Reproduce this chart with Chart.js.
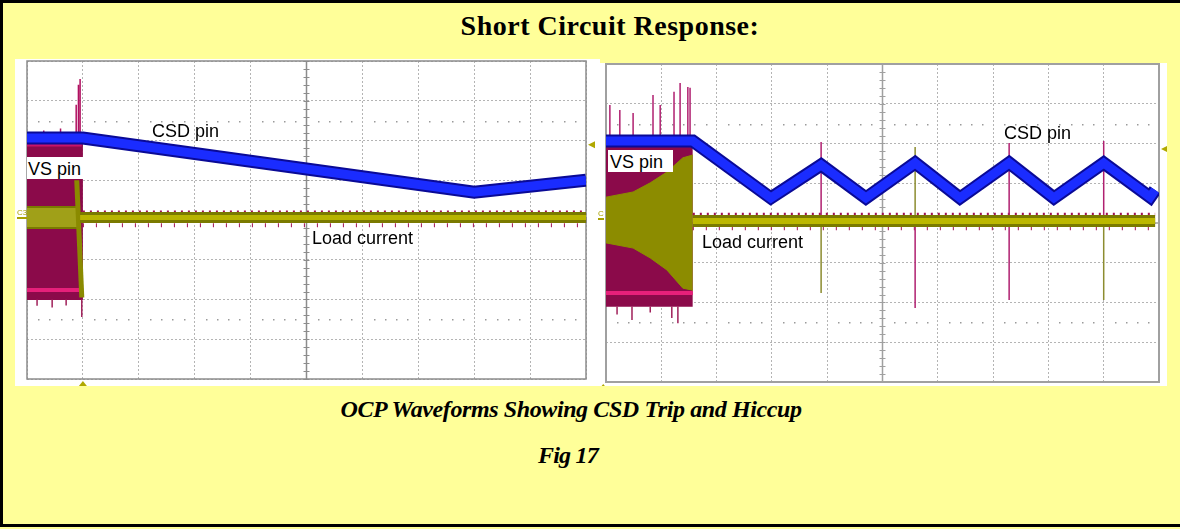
<!DOCTYPE html>
<html>
<head>
<meta charset="utf-8">
<script src="https://cdn.jsdelivr.net/npm/chart.js@4"></script>
<style>
  html, body { margin: 0; padding: 0; }
  body { width: 1180px; height: 529px; background: #ffff99; position: relative; overflow: hidden; font-family: "Liberation Sans", Arial, sans-serif; }
  .frame { position: absolute; left: 0; top: 0; width: 1200px; height: 521px; border: 3px solid #000; border-right: 0; }
  .serif { position: absolute; left: 0; font-family: "Liberation Serif", "Times New Roman", serif; font-weight: bold; color: #000; line-height: 1; white-space: nowrap; text-align: center; }
  canvas { position: absolute; background: #fff; }
  .lbl { position: absolute; font-size: 18px; line-height: 18px; color: #000; white-space: nowrap; }
  .box { position: absolute; background: #fff; }
  .ch { position: absolute; font-size: 8px; line-height: 8px; color: #a8a000; border-bottom: 2px solid #a8a000; }
</style>
</head>
<body>
<div class="frame"></div>
<div class="serif" style="top:12px; width:1220px; font-size:28px; letter-spacing:0.5px;">Short Circuit Response:</div>

<canvas id="leftScope" width="585" height="327" style="left:15px; top:59px;"></canvas>
<canvas id="rightScope" width="567" height="323" style="left:600px; top:63px;"></canvas>

<div class="lbl" style="left:152px; top:122px;">CSD pin</div>
<div class="box" style="left:27px; top:157px; width:57px; height:22px;"></div>
<div class="lbl" style="left:28px; top:160px;">VS pin</div>
<div class="lbl" style="left:312px; top:229px;">Load current</div>
<span class="ch" style="left:17px; top:209px;">C3</span>

<div class="lbl" style="left:1004px; top:124px;">CSD pin</div>
<div class="box" style="left:608px; top:150px; width:65px; height:22px;"></div>
<div class="lbl" style="left:610px; top:153px;">VS pin</div>
<div class="lbl" style="left:702px; top:233px;">Load current</div>
<span class="ch" style="left:598px; top:210px; width:6px; overflow:hidden;">C3</span>

<div class="serif" style="top:397px; width:1142px; font-size:24px; font-style:italic; letter-spacing:-0.4px;">OCP Waveforms Showing CSD Trip and Hiccup</div>
<div class="serif" style="top:443px; width:1136px; font-size:24px; font-style:italic; letter-spacing:-0.8px;">Fig 17</div>

<script>
// scope screens in divisions: x 0..10, y -4..4 (0 = centre line)

// left capture: CSD trip
const leftCsd = [[0, 2.06], [1.0, 2.06], [8.0, 0.70], [10, 1.0]]
const leftVsTop = [[0, 1.95], [1.0, 1.95]]
const leftVsBottom = [[0, -2.01], [1.0, -2.01]]
const leftVsPink = [[0, -1.76], [0.98, -1.76]]
const leftVsUpperPink = [[0, 1.9], [0.98, 1.9]]
const leftLoadBlockTop = [[0, 0.33], [0.95, 0.33]]
const leftLoadBlockBottom = [[0, -0.2], [0.95, -0.2]]
const leftLoadEdge = [[0.89, 1.0], [0.98, -1.95]]
const leftLoad = [[0.95, 0.06], [10, 0.06]]
// spikes: [x, from, to]
const leftVsSpikes = [[0.95, 2.06, 3.55], [0.92, 2.06, 3.4], [0.88, 2.06, 2.9], [0.6, 2.06, 2.3], [0.3, 2.06, 2.25]]
const leftVsLowSpikes = [[0.18, -2.0, -2.16], [0.45, -2.0, -2.2], [0.7, -2.0, -2.15], [0.98, -2.0, -2.44]]

// right capture: hiccup
const rightCsd = [[0, 2.06], [1.57, 2.06], [2.98, 0.63], [3.89, 1.46], [4.70, 0.63], [5.59, 1.51], [6.40, 0.63],
  [7.29, 1.51], [8.10, 0.63], [9.0, 1.51], [9.84, 0.65], [9.93, 0.83]]
const rightVsTop = [[0, 2.0], [1.57, 2.0]]
const rightVsBottom = [[0, -2.11], [1.57, -2.11]]
const rightVsPink = [[0, -1.76], [1.57, -1.76]]
const rightEnvX = [0, 0.49, 0.80, 1.10, 1.39, 1.57]
const rightEnvTop = [0.65, 0.78, 1.01, 1.28, 1.64, 1.71]
const rightEnvBottom = [-0.50, -0.63, -0.88, -1.18, -1.64, -1.69]
const rightLoad = [[1.57, 0.05], [9.93, 0.05]]
const rightVsSpikes = [[0.07, 2.06, 2.97], [0.25, 2.06, 2.84], [0.49, 2.06, 2.77], [0.85, 2.06, 3.22], [0.98, 2.06, 2.97],
  [1.23, 2.06, 3.30], [1.34, 2.06, 3.52], [1.48, 2.06, 3.42], [1.52, 2.06, 3.40]]
const rightVsLowSpikes = [[0.47, -2.1, -2.44], [1.19, -2.1, -2.39], [1.30, -2.1, -2.52], [0.2, -2.1, -2.3], [0.8, -2.1, -2.25]]
const rightVsPeakSpikes = [[3.89, 0.05, 2.04], [7.29, 0.05, 2.01], [9.0, 0.05, 2.06], [5.59, 0.05, -2.14], [7.29, 0.05, -1.94]]
const rightLoadSpikes = [[3.89, 0.05, -1.76], [5.59, 0.05, 1.91], [9.0, 0.05, -1.94]]

const MAGENTA = "#8b0a4a"
const PINK = "#e6207a"
const OLIVE = "#8c8c00"

const pts = (arr) => arr.map((p) => ({ x: p[0], y: p[1] }))
const zipPts = (xs, ys) => xs.map((x, i) => ({ x: x, y: ys[i] }))
const spikePts = (arr) => {
  const out = []
  arr.forEach((s) => out.push({ x: s[0], y: s[1] }, { x: s[0], y: s[2] }, { x: s[0], y: null }))
  return out
}
const line = (data, color, width, extra) =>
  Object.assign({ data: data, borderColor: color, borderWidth: width, pointRadius: 0, fill: false, tension: 0 }, extra || {})

// graticule details the scale grid can't do: solid frame, centre cross with minor ticks, dotted rows, markers
const graticule = {
  id: "graticule",
  beforeDatasetsDraw(chart, args, opts) {
    const { ctx, chartArea: a, scales } = chart
    const x = scales.x, y = scales.y
    const cx = x.getPixelForValue(5), cy = y.getPixelForValue(0)
    ctx.save()
    ctx.strokeStyle = opts.color
    ctx.lineWidth = 1.5
    ctx.beginPath()
    ctx.moveTo(cx, a.top); ctx.lineTo(cx, a.bottom)
    ctx.moveTo(a.left, cy); ctx.lineTo(a.right, cy)
    ctx.stroke()
    ctx.lineWidth = 1
    ctx.beginPath()
    for (let v = -4; v <= 4.001; v += 0.2) {
      const py = Math.round(y.getPixelForValue(v)) + 0.5
      ctx.moveTo(cx - 3, py); ctx.lineTo(cx + 3, py)
    }
    for (let v = 0; v <= 10.001; v += 0.2) {
      const px = Math.round(x.getPixelForValue(v)) + 0.5
      ctx.moveTo(px, cy - 3); ctx.lineTo(px, cy + 3)
    }
    ctx.stroke()
    ctx.fillStyle = "#9a9a9a"
    for (const row of [2.5, -2.5]) {
      const py = Math.round(y.getPixelForValue(row))
      for (let v = 0.2; v < 10; v += 0.2) {
        if (Math.abs(v - Math.round(v)) < 0.05) continue
        ctx.fillRect(Math.round(x.getPixelForValue(v)), py, 1.5, 1.5)
      }
    }
    ctx.lineWidth = opts.frameWidth
    ctx.strokeRect(a.left, a.top, a.width, a.height)
    ctx.restore()
  },
  afterDraw(chart, args, opts) {
    const { ctx, chartArea: a, scales } = chart
    ctx.save()
    ctx.fillStyle = "#b0a800"
    // trigger level marker on the right edge
    const ly = scales.y.getPixelForValue(opts.levelY)
    ctx.beginPath()
    ctx.moveTo(a.right + 2, ly); ctx.lineTo(a.right + 9, ly - 3.5); ctx.lineTo(a.right + 9, ly + 3.5)
    ctx.closePath(); ctx.fill()
    // trigger position marker under the screen
    const tx = scales.x.getPixelForValue(opts.trigX)
    ctx.beginPath()
    ctx.moveTo(tx, a.bottom + 2); ctx.lineTo(tx - 4, a.bottom + 7); ctx.lineTo(tx + 4, a.bottom + 7)
    ctx.closePath(); ctx.fill()
    ctx.restore()
  },
}

function scope(id, datasets, pad, marks) {
  datasets.forEach((d, i) => { d.order = datasets.length - i })
  const axis = (min, max) => ({
    type: "linear", min: min, max: max,
    ticks: { display: false, stepSize: 1 },
    grid: { color: "#b4b4b4", drawTicks: false, lineWidth: 1 },
    border: { display: false, dash: [2, 2] },
  })
  return new Chart(document.getElementById(id), {
    type: "line",
    data: { datasets: datasets },
    options: {
      responsive: false,
      animation: false,
      events: [],
      devicePixelRatio: 1,
      layout: { padding: pad },
      plugins: { legend: { display: false }, tooltip: { enabled: false }, graticule: marks },
      scales: { x: axis(0, 10), y: axis(-4, 4) },
    },
    plugins: [graticule],
  })
}

// datasets listed bottom layer first
scope("leftScope", [
  line(pts(leftVsTop), MAGENTA, 0, { fill: "+1", backgroundColor: MAGENTA }),
  line(pts(leftVsBottom), MAGENTA, 0),
  line(spikePts(leftVsLowSpikes), "#a0205a", 1.5),
  line(pts(leftVsPink), PINK, 4),
  line(pts(leftVsUpperPink), "#c8146a", 4),
  line(pts(leftLoadBlockTop), "#7a7a00", 2, { fill: "+1", backgroundColor: "#a0a018" }),
  line(pts(leftLoadBlockBottom), "#7a7a00", 2),
  line(pts(leftLoadEdge), "#8a8a00", 5),
  line(pts([[1, 0.2], [10, 0.2]]), "#a01050", 3, { borderDash: [2, 5] }),
  line(pts([[1, -0.13], [10, -0.13]]), "#a01050", 4, { borderDash: [1, 12] }),
  line(pts(leftLoad), "#7a7a00", 11),
  line(pts(leftLoad), "#b8b400", 5),
  line(spikePts(leftVsSpikes), "#b01060", 1.5),
  line(pts(leftCsd), "#0a0a96", 13),
  line(pts(leftCsd), "#1a2cff", 9),
], { left: 12, right: 14, top: 2, bottom: 7 }, { color: "#8c8c8c", frameWidth: 1.5, levelY: 1.89, trigX: 1.0 })

scope("rightScope", [
  line(pts(rightVsTop), MAGENTA, 0, { fill: "+1", backgroundColor: MAGENTA }),
  line(pts(rightVsBottom), MAGENTA, 0),
  line(spikePts(rightVsLowSpikes), "#a0205a", 1.5),
  line(pts(rightVsPink), PINK, 4),
  line(zipPts(rightEnvX, rightEnvTop), OLIVE, 1, { fill: "+1", backgroundColor: OLIVE }),
  line(zipPts(rightEnvX, rightEnvBottom), OLIVE, 1),
  line(pts([[1.57, 0.22], [9.93, 0.22]]), "#a01050", 3, { borderDash: [2, 5] }),
  line(pts([[1.57, -0.13], [9.93, -0.13]]), "#a01050", 4, { borderDash: [1, 12] }),
  line(spikePts(rightLoadSpikes), "#8c8c30", 1.5),
  line(spikePts(rightVsPeakSpikes), "#b02070", 1.5),
  line(pts(rightLoad), "#7a7a00", 12),
  line(pts(rightLoad), "#bcb800", 6),
  line(spikePts(rightVsSpikes), "#b02070", 1.5),
  line(pts(rightCsd), "#0a0a96", 13),
  line(pts(rightCsd), "#1a2cff", 9),
], { left: 6, right: 8, top: 1, bottom: 4 }, { color: "#a0a0a0", frameWidth: 2, levelY: 1.86, trigX: -0.05 })
</script>
</body>
</html>
